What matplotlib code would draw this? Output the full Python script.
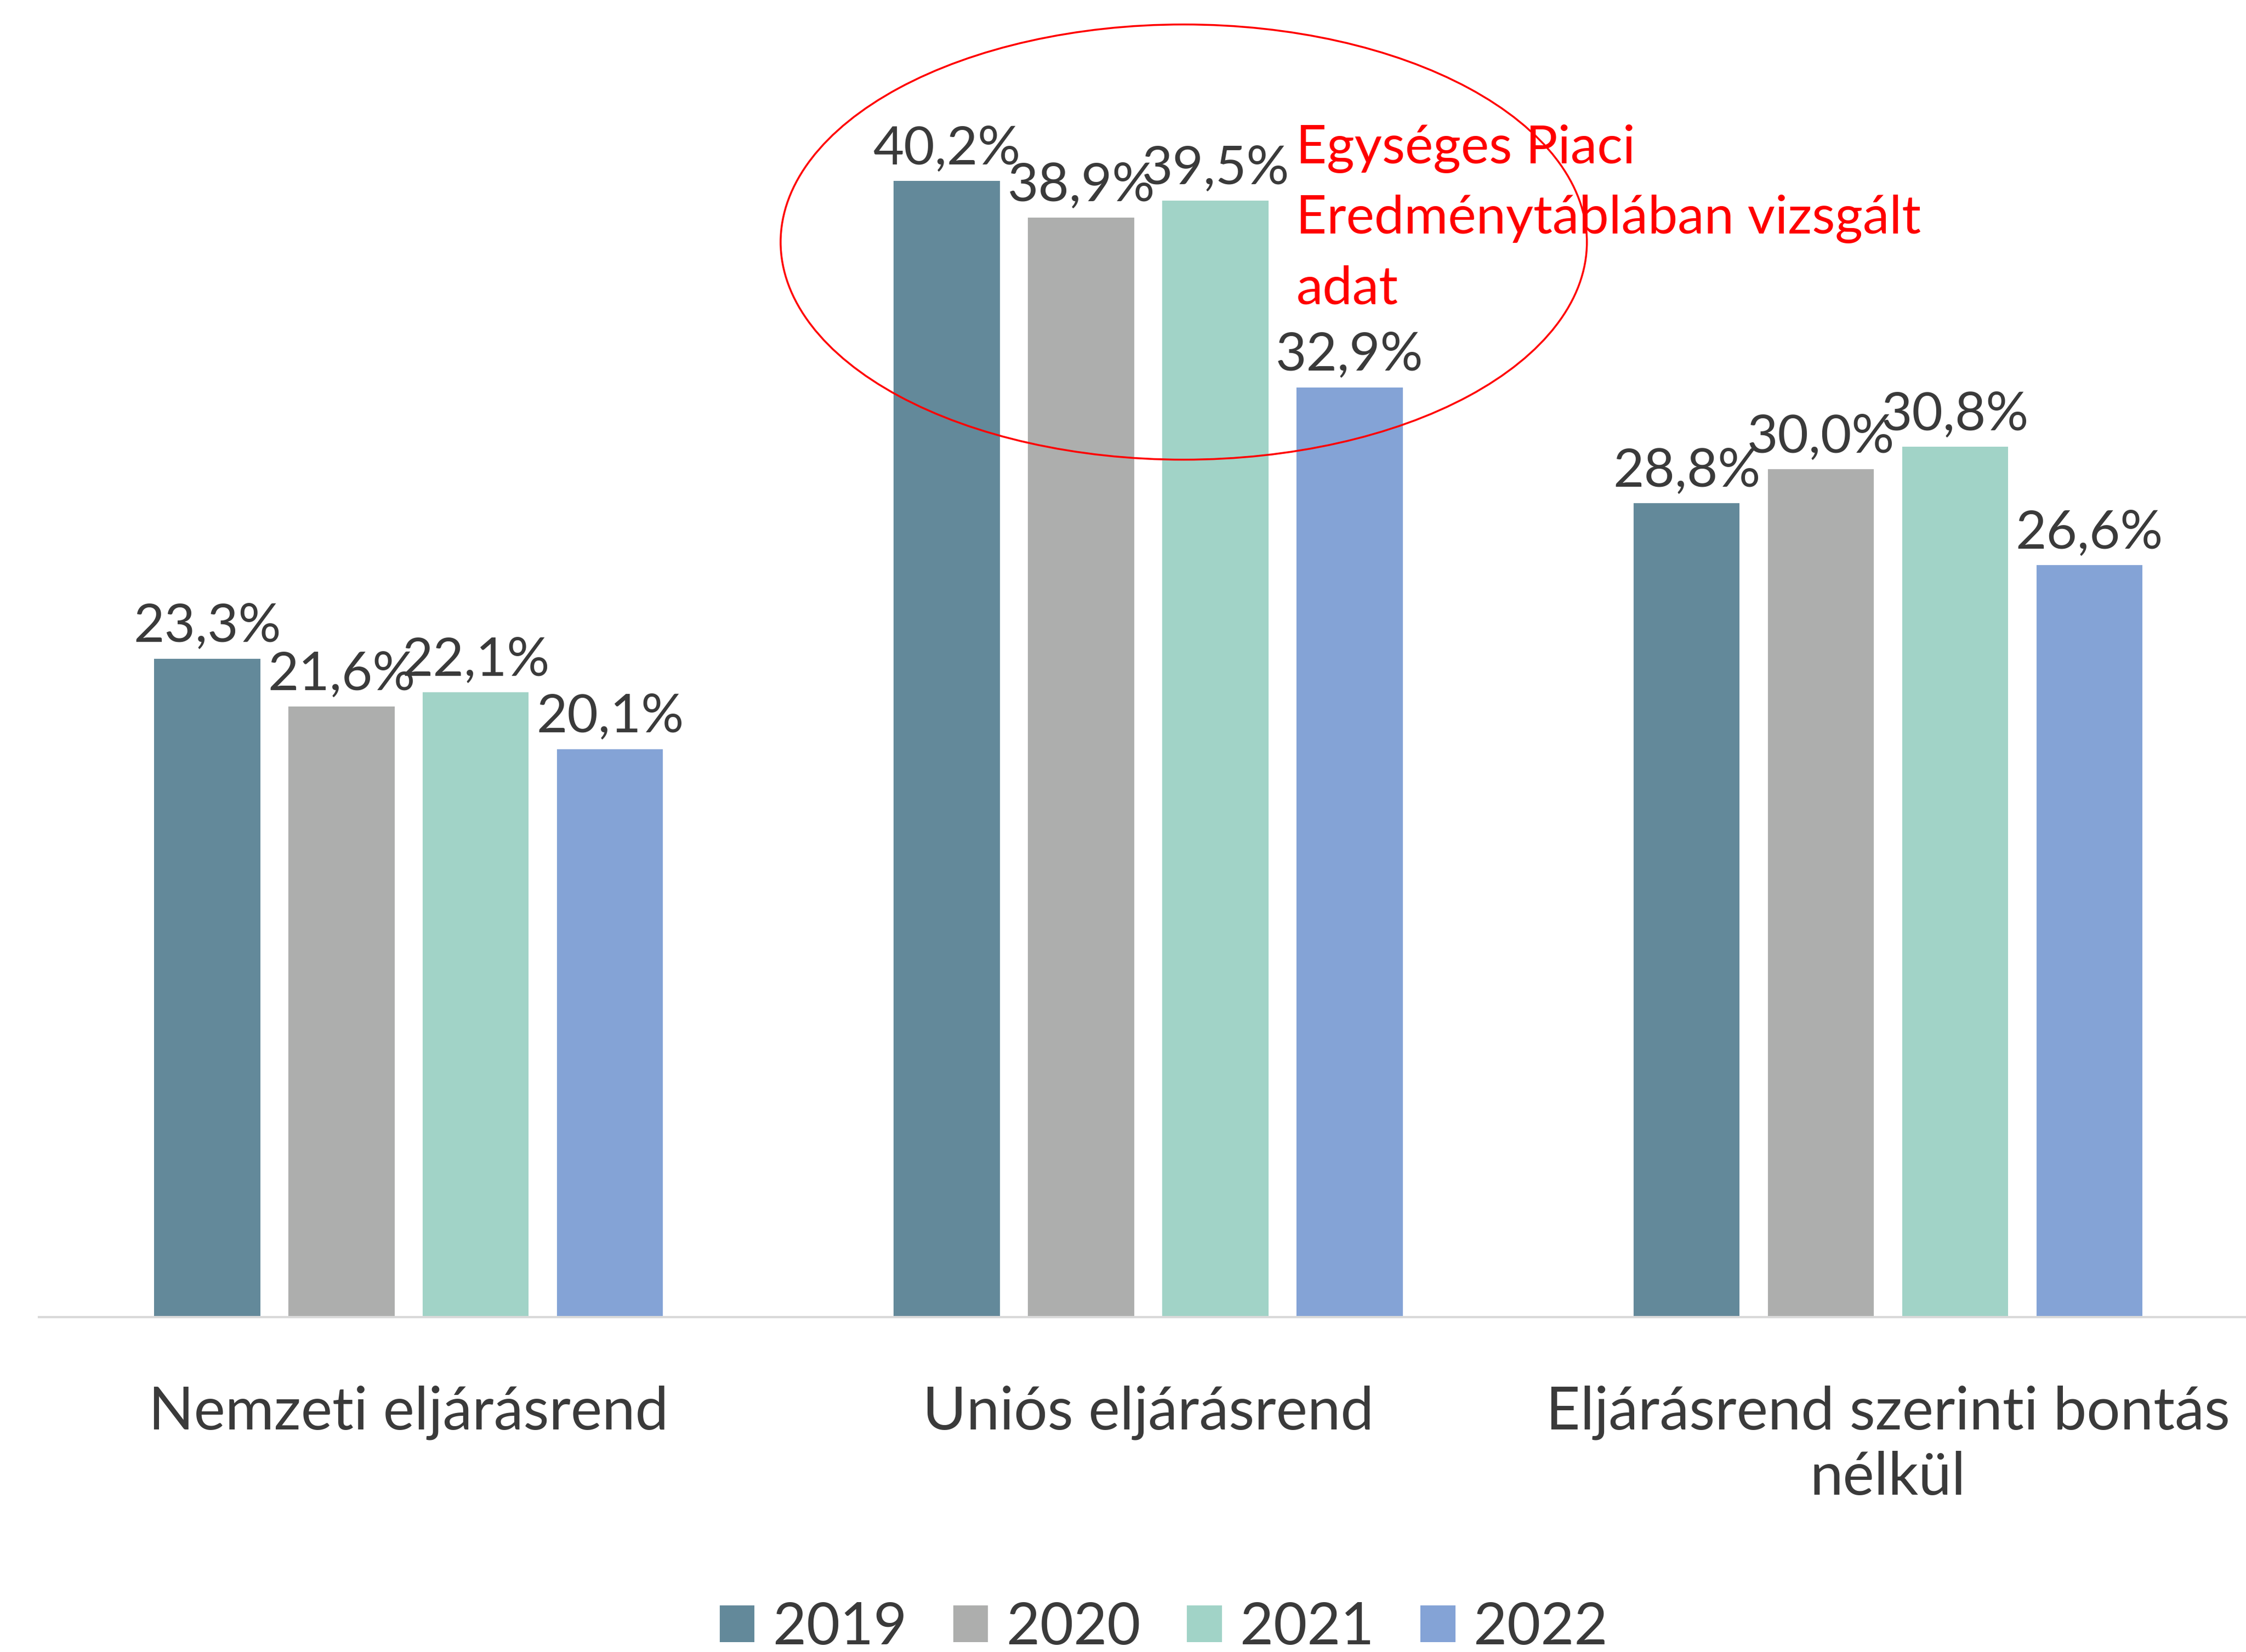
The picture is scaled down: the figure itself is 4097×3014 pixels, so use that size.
import matplotlib
matplotlib.use("Agg")
import matplotlib.pyplot as plt
from matplotlib.patches import Ellipse
import numpy as np

categories = ["Nemzeti eljárásrend", "Uniós eljárásrend", "Eljárásrend szerinti bontás\nnélkül"]
years = ["2019", "2020", "2021", "2022"]
values = {
    "2019": [23.3, 40.2, 28.8],
    "2020": [21.6, 38.9, 30.0],
    "2021": [22.1, 39.5, 30.8],
    "2022": [20.1, 32.9, 26.6],
}
colors = ["#63899A", "#ADAEAD", "#A1D3C7", "#84A3D6"]
annotation_text = "Egységes Piaci\nEredménytáblában vizsgált\nadat"

plt.rcParams['font.family'] = ['Lato', 'DejaVu Sans']
text_color = "#3A3A3A"

fig = plt.figure(figsize=(40.97, 30.14), dpi=100)
ax = fig.add_axes([27/1568, 1 - 920/1154, 1 - 27/1568, 920/1154])

x = np.arange(len(categories))
step = 0.1815
width = 0.1434
for i, yr in enumerate(years):
    pos = x + (i - 1.5) * step
    bars = ax.bar(pos, values[yr], width=width, color=colors[i], label=yr, zorder=2)
    for b, v in zip(bars, values[yr]):
        ax.annotate(f"{v:.1f}%".replace(".", ","),
                    (b.get_x() + b.get_width() / 2, b.get_height()),
                    xytext=(0, 22), textcoords="offset points",
                    ha="center", va="baseline", fontsize=70, color=text_color)

ax.set_xlim(-0.5, 2.484)
ax.set_ylim(0, 920 / 19.74)
for s in ["top", "right", "left"]:
    ax.spines[s].set_visible(False)
ax.spines["bottom"].set_color("#D9D9D9")
ax.spines["bottom"].set_linewidth(3)
ax.set_yticks([])
ax.set_xticks(x)
ax.set_xticklabels(categories, fontsize=78, color=text_color, linespacing=1.25)
ax.tick_params(axis="x", length=0, pad=90)

# annotation ellipse and text
ell = Ellipse((1.048, 38.04), 1.09, 15.4, fill=False, edgecolor="#FF0000",
              linewidth=2.5, clip_on=False, zorder=5)
ax.add_patch(ell)
ax.text(1.2, 42.2, annotation_text, color="#FF0000", fontsize=70,
        ha="left", va="top", linespacing=1.55, zorder=6)

leg = fig.legend(loc="center", bbox_to_anchor=(812.5/1568, 1 - 1137/1154), ncol=4,
                 frameon=False, fontsize=76, handlelength=0.6, handleheight=0.6,
                 columnspacing=0.8, handletextpad=0.32, labelcolor=text_color)

fig.savefig("out.png", dpi=100)
